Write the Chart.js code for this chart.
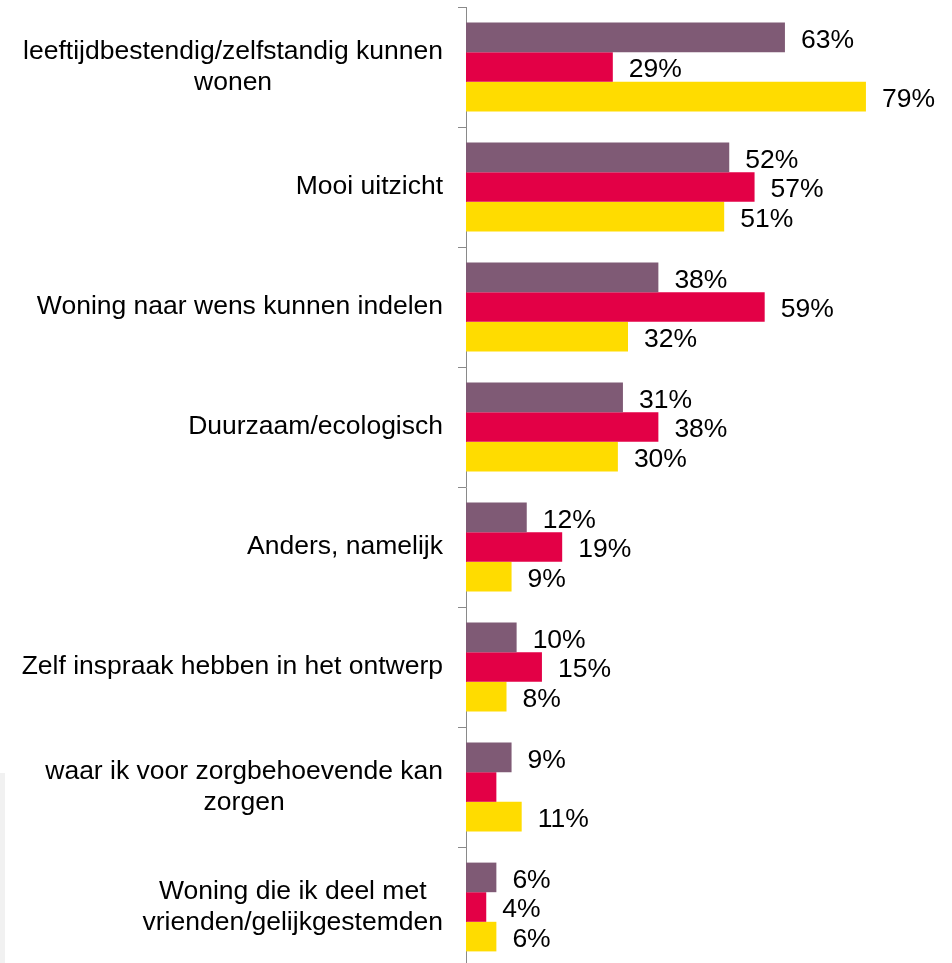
<!DOCTYPE html>
<html>
<head>
<meta charset="utf-8">
<script src="https://cdn.jsdelivr.net/npm/chart.js@4/dist/chart.umd.min.js"></script>
<style>
  html, body { margin: 0; padding: 0; background: #fff; overflow: hidden; }
  #wrap { position: relative; width: 952px; height: 967px; }
  #edge { position: absolute; left: 0; top: 773px; width: 5px; height: 200px; background: #f1f1f1; }
</style>
</head>
<body>
<div id="wrap">
  <canvas id="chart" width="952" height="967"></canvas>
  <div id="edge"></div>
</div>
<script>
const categories = [
  ['leeftijdbestendig/zelfstandig kunnen', 'wonen'],
  ['Mooi uitzicht'],
  ['Woning naar wens kunnen indelen'],
  ['Duurzaam/ecologisch'],
  ['Anders, namelijk'],
  ['Zelf inspraak hebben in het ontwerp'],
  ['waar ik voor zorgbehoevende kan', 'zorgen'],
  ['Woning die ik deel met', 'vrienden/gelijkgestemden']
]
const purpleValues = [63, 52, 38, 31, 12, 10, 9, 6]
const redValues = [29, 57, 59, 38, 19, 15, 6, 4]
const yellowValues = [79, 51, 32, 30, 9, 8, 11, 6]
// het rode staafje bij "zorgbehoevende" heeft geen label in het origineel
const hiddenLabels = { 1: [6] }

const font = '"Liberation Sans", Arial, sans-serif'

const categoryLabels = {
  id: 'categoryLabels',
  afterDraw(chart) {
    const ctx = chart.ctx
    const y = chart.scales.y
    ctx.save()
    ctx.font = '26.5px ' + font
    ctx.fillStyle = '#000'
    ctx.textBaseline = 'middle'
    ctx.textAlign = 'center'
    const right = y.right - 23
    const lineH = 31
    categories.forEach((lines, i) => {
      const cy = y.getPixelForValue(i)
      const w = Math.max(...lines.map(l => ctx.measureText(l).width))
      const cx = right - w / 2
      const top = cy - (lines.length - 1) * lineH / 2
      lines.forEach((l, j) => ctx.fillText(l, cx, top + j * lineH))
    })
    ctx.restore()
  }
}

const valueLabels = {
  id: 'valueLabels',
  afterDatasetsDraw(chart) {
    const ctx = chart.ctx
    ctx.save()
    ctx.font = '26.5px ' + font
    ctx.fillStyle = '#000'
    ctx.textBaseline = 'middle'
    ctx.textAlign = 'left'
    chart.data.datasets.forEach((ds, di) => {
      chart.getDatasetMeta(di).data.forEach((bar, i) => {
        if ((hiddenLabels[di] || []).includes(i)) return
        ctx.fillText(ds.data[i] + '%', bar.x + 16, bar.y + 3)
      })
    })
    ctx.restore()
  }
}

new Chart(document.getElementById('chart'), {
  type: 'bar',
  data: {
    labels: categories.map(c => c.join(' ')),
    datasets: [
      { data: purpleValues, backgroundColor: '#7f5a75' },
      { data: redValues, backgroundColor: '#e30046' },
      { data: yellowValues, backgroundColor: '#ffdc00' }
    ]
  },
  options: {
    indexAxis: 'y',
    responsive: false,
    animation: false,
    maintainAspectRatio: false,
    layout: { padding: { top: 7, right: 0, bottom: 0, left: 0 } },
    datasets: { bar: { categoryPercentage: 0.74, barPercentage: 1 } },
    plugins: { legend: { display: false }, tooltip: { enabled: false } },
    scales: {
      x: { display: false, min: 0, max: 96 },
      y: {
        ticks: { display: false },
        grid: { offset: true, drawOnChartArea: false, tickLength: 8, color: '#8a8a8a' },
        border: { color: '#8a8a8a', width: 1 },
        afterFit(scale) { scale.width = 466 }
      }
    }
  },
  plugins: [categoryLabels, valueLabels]
})
</script>
</body>
</html>
